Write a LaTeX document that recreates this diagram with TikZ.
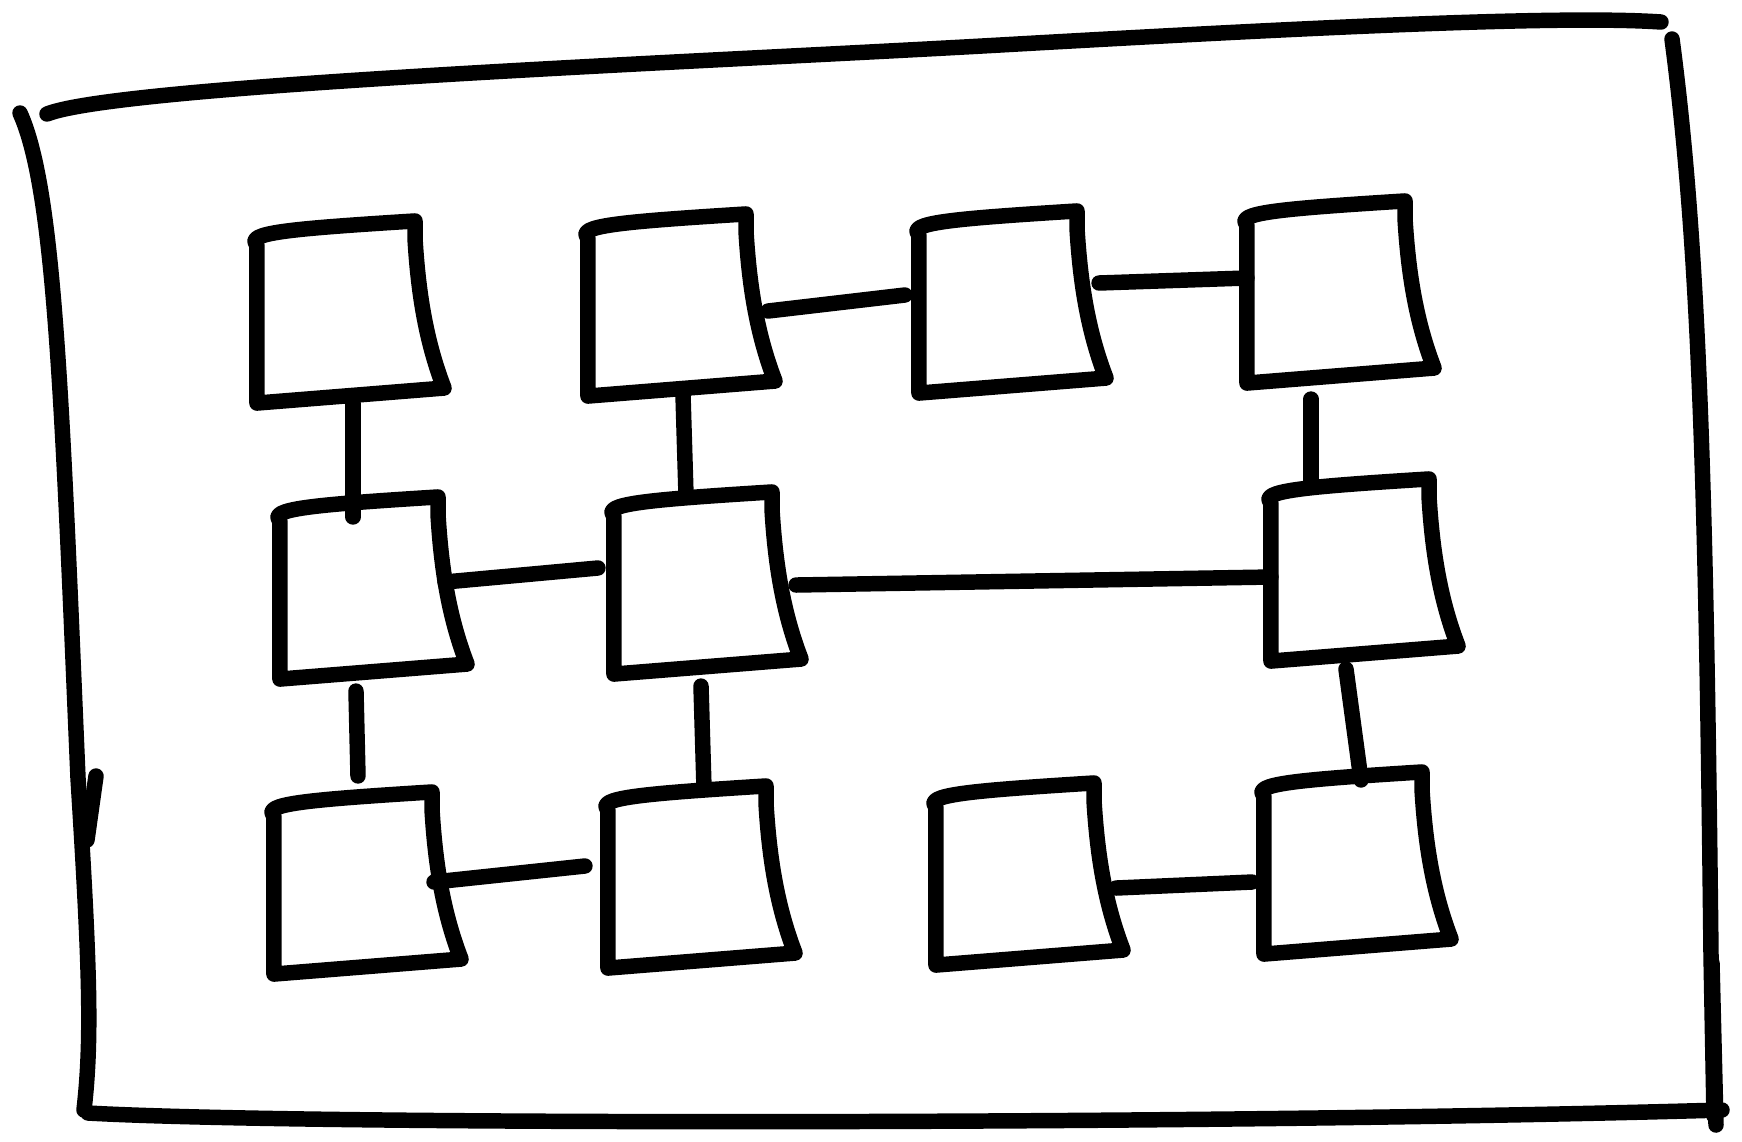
\documentclass[tikz,border=0pt]{standalone}
\newcommand\skbox[1]{%
  \draw[pen] ([yshift=-0.4mm]#1.south west) -- ([yshift=-1.6mm]#1.north west)
    .. controls ([xshift=-1.2mm,yshift=-0.4mm]#1.north west) and ([xshift=3mm,yshift=0mm]#1.north west) .. ([xshift=-2.2mm,yshift=0.8mm]#1.north east)
    -- ([xshift=-2.2mm,yshift=-1mm]#1.north east)
    .. controls ([xshift=-1.9mm,yshift=-6mm]#1.north east) and ([xshift=-1.2mm,yshift=-11mm]#1.north east) .. ([xshift=0.7mm,yshift=1.1mm]#1.south east)
    -- ([yshift=-0.4mm]#1.south west);}
\begin{document}
\begin{tikzpicture}[x=0.01cm,y=-0.01cm,
  pen/.style={line width=4.4pt,line cap=round,line join=round},
  cell/.style={rectangle,minimum width=1.8cm,minimum height=1.7cm,inner sep=0pt,outer sep=0pt}]
\useasboundingbox (0,0) rectangle (1742,1141);
% outer frame
\draw[pen] (47,114) .. controls (120,85) and (700,62) .. (1000,45) .. controls (1300,28) and (1560,15) .. (1661,22);
\draw[pen] (20,113) .. controls (55,190) and (62,400) .. (78,778) .. controls (90,970) and (92,1040) .. (84,1110);
\draw[pen] (88,1113) .. controls (300,1125) and (1200,1125) .. (1722,1110);
\draw[pen] (1672,39) .. controls (1700,250) and (1706,500) .. (1711,955) -- (1714,1116);
\draw[pen] (96,776) -- (87,840);
\draw[pen] (1712,963) -- (1716,1125);
% boxes
\node[cell] (b1) at (347,314) {};
\node[cell] (b2) at (678,307) {};
\node[cell] (b3) at (1009,304) {};
\node[cell] (b4) at (1337,294) {};
\node[cell] (b5) at (370,590) {};
\node[cell] (b6) at (704,585) {};
\node[cell] (b7) at (1361,572) {};
\node[cell] (b8) at (364,885) {};
\node[cell] (b9) at (698,879) {};
\node[cell] (b10) at (1026,876) {};
\node[cell] (b11) at (1354,865) {};
\foreach \b in {b1,b2,b3,b4,b5,b6,b7,b8,b9,b10,b11} {\skbox{\b}}
% connectors
\draw[pen] ([xshift=0.6mm,yshift=-0.5mm]b1.south) -- ([xshift=0.6mm,yshift=-1.2mm]b1.south |- b5.north);
\draw[pen] ([xshift=0.5mm,yshift=-0.3mm]b2.south) -- ([xshift=0.8mm,yshift=0.5mm]b2.south |- b6.north);
\draw[pen] ([yshift=-0.4mm]b2.east) -- ([xshift=-1.4mm,yshift=1.2mm]b2.east -| b3.west);
\draw[pen] ([yshift=2.1mm]b3.east) -- ([yshift=2.6mm]b3.east -| b4.west);
\draw[pen] ([xshift=-2.6mm,yshift=-2mm]b4.south) -- ([xshift=-2.6mm]b4.south |- b7.north);
\draw[pen] ([xshift=-1.5mm,yshift=0.8mm]b5.east) -- ([xshift=-1.6mm,yshift=2.2mm]b5.east -| b6.west);
\draw[pen] ([xshift=0.2mm,yshift=0mm]b6.east) -- ([yshift=0.8mm]b6.east -| b7.west);
\draw[pen] ([xshift=-1.4mm,yshift=-1.6mm]b5.south) -- ([xshift=-1.2mm,yshift=2.4mm]b5.south |- b8.north);
\draw[pen] ([xshift=-0.3mm,yshift=-1.6mm]b6.south) -- ([xshift=0mm,yshift=0.6mm]b6.south |- b9.north);
\draw[pen] ([xshift=-1.5mm,yshift=-1.2mm]b7.south) -- ([xshift=0mm,yshift=0mm]b7.south |- b11.north);
\draw[pen] ([xshift=-2mm,yshift=0.3mm]b8.east) -- ([xshift=-2.3mm,yshift=1.9mm]b8.east -| b9.west);
\draw[pen] ([xshift=0mm,yshift=-1.2mm]b10.east) -- ([xshift=-1.2mm,yshift=-0.6mm]b10.east -| b11.west);
\end{tikzpicture}
\end{document}
